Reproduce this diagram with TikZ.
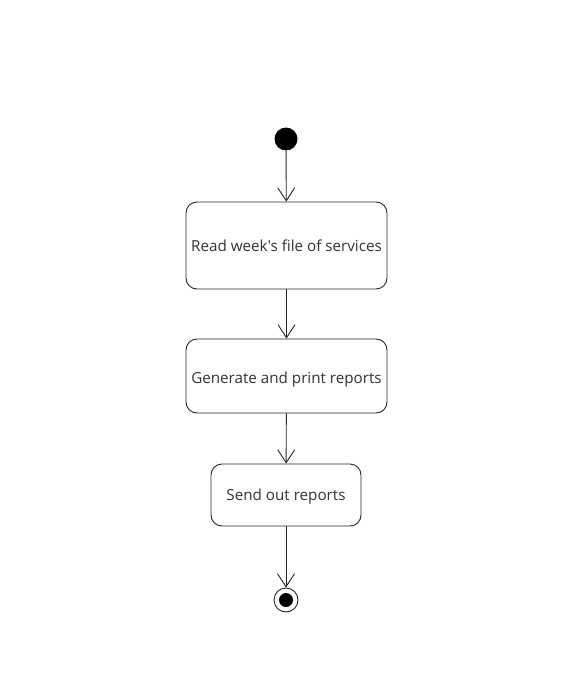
\documentclass[tikz,border=0pt]{standalone}
\usepackage{fontspec}
\newfontfamily\lblfont{Open Sans}
\usetikzlibrary{arrows.meta}
\begin{document}
\begin{tikzpicture}[x=1pt,y=-1pt,
  act/.style={draw=black!85,line width=0.9pt,rounded corners=11pt,fill=white,inner sep=0pt,
    font=\lblfont\fontsize{15.2pt}{17pt}\selectfont,text=black!80},
  flow/.style={draw=black!85,line width=0.9pt,-{Straight Barb[length=13pt,width=17pt,line width=0.9pt]}}]
\useasboundingbox (0,0) rectangle (568,682);
\node[circle,fill=black,inner sep=0pt,minimum size=23pt] (start) at (286,139) {};
\node[act,minimum width=201pt,minimum height=87pt] (read) at (286.5,245.5) {Read week's file of services};
\node[act,minimum width=201pt,minimum height=74pt] (gen) at (286.5,376) {\raisebox{-3.5pt}[\height][\depth]{Generate and print reports}};
\node[act,minimum width=150pt,minimum height=62pt] (send) at (286,495) {\raisebox{-2pt}[\height][\depth]{Send out reports}};
\node[circle,draw=black!85,line width=0.9pt,fill=white,inner sep=0pt,minimum size=24pt] (end) at (286,600) {};
\node[circle,fill=black,inner sep=0pt,minimum size=14pt] (endin) at (end.center) {};
\draw[flow] (start) -- (read);
\draw[flow] (read) -- (gen);
\draw[flow] (gen) -- (send);
\draw[flow] (send) -- (end);
\end{tikzpicture}
\end{document}
